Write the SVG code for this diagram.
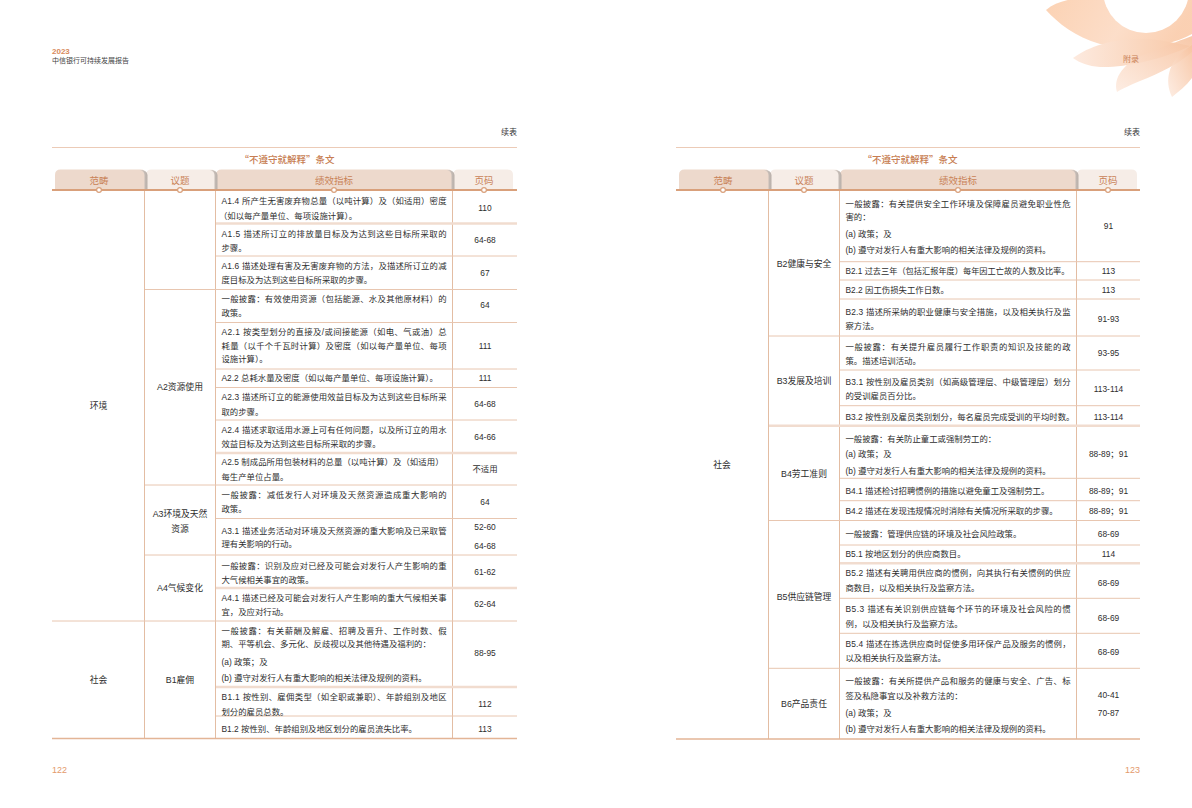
<svg xmlns="http://www.w3.org/2000/svg" width="1192" height="808" viewBox="0 0 1192 808">
<style>
text{font-family:"Liberation Sans","Noto Sans CJK SC",sans-serif}
.t{font-size:8.4px;fill:#2e2e2e}
.m{font-size:8.4px;fill:#2e2e2e;text-anchor:middle}
.lb{font-size:8.8px;fill:#2e2e2e;text-anchor:middle}
.tab{font-size:9.5px;fill:#c98257;text-anchor:middle}
.ttl{font-family:"Noto Sans CJK SC",sans-serif;font-size:9.5px;fill:#c77d52;text-anchor:middle;font-weight:500}
.sep{stroke:#e8c6b0;stroke-width:1;fill:none}
.sepw{stroke:#f1dccf;stroke-width:2.5;fill:none}
.col{stroke:#e3bda3;stroke-width:1;fill:none}
.hl{stroke:#d9a07b;stroke-width:2;fill:none}
.bl{stroke:#e3b596;stroke-width:1.5;fill:none}
.rule{stroke:#eccbb7;stroke-width:1;fill:none}
.dk{fill:#edd9cc}
.lt{fill:#f6ede7}
.dot{fill:#fff;stroke:#d9a07b;stroke-width:1.2}
</style>
<defs>
<linearGradient id="shg" x1="0" y1="0" x2="1" y2="0"><stop offset="0" stop-color="#d6cdc7"/><stop offset="1" stop-color="#b9b0aa"/></linearGradient>
<path id="tabsh" d="M-3,0 Q4,0 4.5,5 V20 H1.5 V5 Q1.3,1.2 -3,0 Z" fill="url(#shg)"/>
<linearGradient id="pa" x1="0" y1="0" x2="1" y2="0.2"><stop offset="0" stop-color="#fbcdab"/><stop offset="0.6" stop-color="#fcdac3"/><stop offset="1" stop-color="#facbaa"/></linearGradient>
<linearGradient id="pb" x1="0" y1="0" x2="1" y2="0"><stop offset="0" stop-color="#fdeadf"/><stop offset="1" stop-color="#f8c8a6"/></linearGradient>
<linearGradient id="pc" x1="0" y1="1" x2="1" y2="0"><stop offset="0" stop-color="#fdebe0"/><stop offset="1" stop-color="#f7c3a0"/></linearGradient>
</defs>

<g id="petals">
<path d="M1046,10 C1060,-2 1085,-4 1105,0 L1192,0 L1192,34 C1170,47 1130,51 1100,44 C1075,37 1058,23 1046,10 Z" fill="url(#pa)" opacity="0.9"/>
<circle cx="1146" cy="-10" r="43" fill="#fff"/>
<path d="M1073,58 C1090,45 1120,37 1150,39 C1165,41 1178,43 1190,46 C1162,60 1122,68 1100,67 C1088,66 1080,63 1073,58 Z" fill="url(#pb)"/>
<path d="M1117,92 C1113,78 1123,62 1150,52 C1170,44 1184,39 1192,36 L1192,52 C1180,63 1160,73 1140,81 C1130,85 1122,89 1117,92 Z" fill="url(#pc)" opacity="0.9"/>
<path d="M1172,97 C1164,80 1169,62 1185,50 L1192,45 L1192,78 C1186,86 1178,92 1172,97 Z" fill="url(#pc)" opacity="0.9"/>
</g>

<g id="page-header">
<text x="52" y="54" style="font-size:8px;fill:#d88a5c;font-weight:bold">2023</text>
<text x="52" y="62.5" style="font-size:7px;fill:#444">中信银行可持续发展报告</text>
<text x="1131" y="62" style="font-size:8px;fill:#c97f57;text-anchor:middle">附录</text>
<text x="517" y="135" style="font-size:8px;fill:#333;text-anchor:end">续表</text>
<text x="1140" y="135" style="font-size:8px;fill:#333;text-anchor:end">续表</text>
<text x="52" y="773" style="font-size:9px;fill:#e39a6c">122</text>
<text x="1140" y="773" style="font-size:9px;fill:#e39a6c;text-anchor:end">123</text>
</g>

<!-- LEFT TABLE -->
<g id="left-table-head">
<line class="rule" x1="52" y1="147.5" x2="517" y2="147.5"/>
<text class="ttl" x="287" y="162.5">“不遵守就解释”条文</text>
<path class="dk" d="M55,190 V175 Q55,169.5 60.5,169.5 H140.5 Q146,169.5 146,175 V190 Z"/>
<path class="lt" d="M146,190 V175 Q146,169.5 151.5,169.5 H210.5 Q216,169.5 216,175 V190 Z"/>
<path class="dk" d="M216,190 V175 Q216,169.5 221.5,169.5 H447.5 Q453,169.5 453,175 V190 Z"/>
<path class="lt" d="M453,190 V175 Q453,169.5 458.5,169.5 H507.5 Q513,169.5 513,175 V190 Z"/>
<use href="#tabsh" x="143" y="170"/>
<use href="#tabsh" x="213" y="170"/>
<use href="#tabsh" x="450" y="170"/>
<text class="tab" x="99" y="183.5">范畴</text>
<text class="tab" x="180" y="183.5">议题</text>
<text class="tab" x="334" y="183.5">绩效指标</text>
<text class="tab" x="484" y="183.5">页码</text>
</g>

<g id="left-table-lines">
<line class="col" x1="144.5" y1="190" x2="144.5" y2="738"/>
<line class="col" x1="215.5" y1="190" x2="215.5" y2="738"/>
<line class="col" x1="452.5" y1="190" x2="452.5" y2="738"/>
<line class="sepw" x1="216" y1="223.5" x2="517" y2="223.5"/>
<line class="sep" x1="216" y1="256" x2="517" y2="256"/>
<line class="sep" x1="145" y1="289.5" x2="517" y2="289.5"/>
<line class="sep" x1="216" y1="322.5" x2="517" y2="322.5"/>
<line class="sep" x1="216" y1="369" x2="517" y2="369"/>
<line class="sep" x1="216" y1="387.5" x2="517" y2="387.5"/>
<line class="sep" x1="216" y1="420" x2="517" y2="420"/>
<line class="sepw" x1="216" y1="453" x2="517" y2="453"/>
<line class="sep" x1="145" y1="485" x2="517" y2="485"/>
<line class="sep" x1="216" y1="518.5" x2="517" y2="518.5"/>
<line class="sep" x1="145" y1="555" x2="517" y2="555"/>
<line class="sepw" x1="216" y1="588" x2="517" y2="588"/>
<line class="sep" x1="52" y1="621" x2="517" y2="621"/>
<line class="sepw" x1="216" y1="687" x2="517" y2="687"/>
<line class="sep" x1="216" y1="716" x2="517" y2="716"/>
<line class="hl" x1="52" y1="190" x2="517" y2="190"/>
<line class="bl" x1="52" y1="738.5" x2="517" y2="738.5"/>
<circle class="dot" cx="99" cy="190" r="2.4"/>
<circle class="dot" cx="180" cy="190" r="2.4"/>
<circle class="dot" cx="334" cy="190" r="2.4"/>
<circle class="dot" cx="484" cy="190" r="2.4"/>
</g>

<g id="left-labels">
<text class="lb" x="98.5" y="409">环境</text>
<text class="lb" x="98.5" y="683">社会</text>
<text class="lb" x="180" y="390">A2资源使用</text>
<text class="lb" x="180" y="517">A3环境及天然</text>
<text class="lb" x="180" y="531.5">资源</text>
<text class="lb" x="180" y="591">A4气候变化</text>
<text class="lb" x="180" y="683">B1雇佣</text>
</g>

<g id="row-A1-4">
<text class="t" x="221.5" y="203.5" textLength="225" lengthAdjust="spacing">A1.4 所产生无害废弃物总量（以吨计算）及（如适用）密度</text>
<text class="t" x="219" y="218.5">（如以每产量单位、每项设施计算）。</text>
<text class="m" x="485" y="210.5">110</text>
</g>
<g id="row-A1-5">
<text class="t" x="221.5" y="237.3" textLength="225" lengthAdjust="spacing">A1.5 描述所订立的排放量目标及为达到这些目标所采取的</text>
<text class="t" x="221.5" y="250.7">步骤。</text>
<text class="m" x="485" y="243">64-68</text>
</g>
<g id="row-A1-6">
<text class="t" x="221.5" y="269" textLength="225" lengthAdjust="spacing">A1.6 描述处理有害及无害废弃物的方法，及描述所订立的减</text>
<text class="t" x="221.5" y="283">度目标及为达到这些目标所采取的步骤。</text>
<text class="m" x="485" y="275.5">67</text>
</g>
<g id="row-A2-gen">
<text class="t" x="221.5" y="302" textLength="225" lengthAdjust="spacing">一般披露：有效使用资源（包括能源、水及其他原材料）的</text>
<text class="t" x="221.5" y="315.7">政策。</text>
<text class="m" x="485" y="308">64</text>
</g>
<g id="row-A2-1">
<text class="t" x="221.5" y="334.7" textLength="225" lengthAdjust="spacing">A2.1 按类型划分的直接及/或间接能源（如电、气或油）总</text>
<text class="t" x="221.5" y="348.7" textLength="225" lengthAdjust="spacing">耗量（以千个千瓦时计算）及密度（如以每产量单位、每项</text>
<text class="t" x="221.5" y="362.3">设施计算）。</text>
<text class="m" x="485" y="348.7">111</text>
</g>
<g id="row-A2-2">
<text class="t" x="221.5" y="381">A2.2 总耗水量及密度（如以每产量单位、每项设施计算）。</text>
<text class="m" x="485" y="381">111</text>
</g>
<g id="row-A2-3">
<text class="t" x="221.5" y="400.3" textLength="225" lengthAdjust="spacing">A2.3 描述所订立的能源使用效益目标及为达到这些目标所采</text>
<text class="t" x="221.5" y="414.7">取的步骤。</text>
<text class="m" x="485" y="406.5">64-68</text>
</g>
<g id="row-A2-4">
<text class="t" x="221.5" y="433" textLength="225" lengthAdjust="spacing">A2.4 描述求取适用水源上可有任何问题，以及所订立的用水</text>
<text class="t" x="221.5" y="447">效益目标及为达到这些目标所采取的步骤。</text>
<text class="m" x="485" y="439.7">64-66</text>
</g>
<g id="row-A2-5">
<text class="t" x="221.5" y="465.3" textLength="222" lengthAdjust="spacing">A2.5 制成品所用包装材料的总量（以吨计算）及（如适用）</text>
<text class="t" x="221.5" y="479.7">每生产单位占量。</text>
<text class="m" x="485" y="472.3">不适用</text>
</g>
<g id="row-A3-gen">
<text class="t" x="221.5" y="498" textLength="225" lengthAdjust="spacing">一般披露：减低发行人对环境及天然资源造成重大影响的</text>
<text class="t" x="221.5" y="512.3">政策。</text>
<text class="m" x="485" y="504.7">64</text>
</g>
<g id="row-A3-1">
<text class="t" x="221.5" y="533.7" textLength="225" lengthAdjust="spacing">A3.1 描述业务活动对环境及天然资源的重大影响及已采取管</text>
<text class="t" x="221.5" y="547">理有关影响的行动。</text>
<text class="m" x="485" y="530.3">52-60</text>
<text class="m" x="485" y="548.7">64-68</text>
</g>
<g id="row-A4-gen">
<text class="t" x="221.5" y="569" textLength="225" lengthAdjust="spacing">一般披露：识别及应对已经及可能会对发行人产生影响的重</text>
<text class="t" x="221.5" y="583">大气候相关事宜的政策。</text>
<text class="m" x="485" y="574.7">61-62</text>
</g>
<g id="row-A4-1">
<text class="t" x="221.5" y="601.3" textLength="225" lengthAdjust="spacing">A4.1 描述已经及可能会对发行人产生影响的重大气候相关事</text>
<text class="t" x="221.5" y="614.7">宜，及应对行动。</text>
<text class="m" x="485" y="607.3">62-64</text>
</g>
<g id="row-B1-gen">
<text class="t" x="221.5" y="633.7" textLength="225" lengthAdjust="spacing">一般披露：有关薪酬及解雇、招聘及晋升、工作时数、假</text>
<text class="t" x="221.5" y="647">期、平等机会、多元化、反歧视以及其他待遇及福利的：</text>
<text class="t" x="221.5" y="664.7">(a) 政策；及</text>
<text class="t" x="221.5" y="681.3">(b) 遵守对发行人有重大影响的相关法律及规例的资料。</text>
<text class="m" x="485" y="656.3">88-95</text>
</g>
<g id="row-B1-1">
<text class="t" x="221.5" y="700.3" textLength="225" lengthAdjust="spacing">B1.1 按性别、雇佣类型（如全职或兼职）、年龄组别及地区</text>
<text class="t" x="221.5" y="714.7">划分的雇员总数。</text>
<text class="m" x="485" y="707">112</text>
</g>
<g id="row-B1-2">
<text class="t" x="221.5" y="732">B1.2 按性别、年龄组别及地区划分的雇员流失比率。</text>
<text class="m" x="485" y="732">113</text>
</g>

<!-- RIGHT TABLE -->
<g id="right-table-head">
<line class="rule" x1="676" y1="147.5" x2="1140" y2="147.5"/>
<text class="ttl" x="910" y="162.5">“不遵守就解释”条文</text>
<path class="dk" d="M679,190 V175 Q679,169.5 684.5,169.5 H764.5 Q770,169.5 770,175 V190 Z"/>
<path class="lt" d="M770,190 V175 Q770,169.5 775.5,169.5 H834.5 Q840,169.5 840,175 V190 Z"/>
<path class="dk" d="M840,190 V175 Q840,169.5 845.5,169.5 H1071.5 Q1077,169.5 1077,175 V190 Z"/>
<path class="lt" d="M1077,190 V175 Q1077,169.5 1082.5,169.5 H1131.5 Q1137,169.5 1137,175 V190 Z"/>
<use href="#tabsh" x="767" y="170"/>
<use href="#tabsh" x="837" y="170"/>
<use href="#tabsh" x="1074" y="170"/>
<text class="tab" x="723" y="183.5">范畴</text>
<text class="tab" x="804" y="183.5">议题</text>
<text class="tab" x="958" y="183.5">绩效指标</text>
<text class="tab" x="1108" y="183.5">页码</text>
</g>

<g id="right-table-lines">
<line class="col" x1="768.5" y1="190" x2="768.5" y2="739"/>
<line class="col" x1="839.5" y1="190" x2="839.5" y2="739"/>
<line class="col" x1="1076.5" y1="190" x2="1076.5" y2="739"/>
<line class="sep" x1="840" y1="261.7" x2="1140" y2="261.7"/>
<line class="sep" x1="840" y1="280" x2="1140" y2="280"/>
<line class="sep" x1="840" y1="299" x2="1140" y2="299"/>
<line class="sep" x1="769" y1="336" x2="1140" y2="336"/>
<line class="sep" x1="840" y1="370" x2="1140" y2="370"/>
<line class="sep" x1="840" y1="405.7" x2="1140" y2="405.7"/>
<line class="sepw" x1="769" y1="425.7" x2="1140" y2="425.7"/>
<line class="sep" x1="840" y1="478.3" x2="1140" y2="478.3"/>
<line class="sep" x1="840" y1="500.7" x2="1140" y2="500.7"/>
<line class="sep" x1="769" y1="520.5" x2="1140" y2="520.5"/>
<line class="sep" x1="840" y1="545" x2="1140" y2="545"/>
<line class="sepw" x1="840" y1="563.3" x2="1140" y2="563.3"/>
<line class="sep" x1="840" y1="598.3" x2="1140" y2="598.3"/>
<line class="sep" x1="840" y1="633.3" x2="1140" y2="633.3"/>
<line class="sep" x1="769" y1="668.3" x2="1140" y2="668.3"/>
<line class="hl" x1="676" y1="190" x2="1140" y2="190"/>
<line class="bl" x1="676" y1="739" x2="1140" y2="739"/>
<circle class="dot" cx="723" cy="190" r="2.4"/>
<circle class="dot" cx="804" cy="190" r="2.4"/>
<circle class="dot" cx="958" cy="190" r="2.4"/>
<circle class="dot" cx="1108" cy="190" r="2.4"/>
</g>

<g id="right-labels">
<text class="lb" x="722" y="468">社会</text>
<text class="lb" x="804" y="267">B2健康与安全</text>
<text class="lb" x="804" y="384">B3发展及培训</text>
<text class="lb" x="804" y="477">B4劳工准则</text>
<text class="lb" x="804" y="600">B5供应链管理</text>
<text class="lb" x="804" y="707">B6产品责任</text>
</g>

<g id="row-B2-gen">
<text class="t" x="845.5" y="206.5" textLength="225" lengthAdjust="spacing">一般披露：有关提供安全工作环境及保障雇员避免职业性危</text>
<text class="t" x="845.5" y="220">害的：</text>
<text class="t" x="845.5" y="237">(a) 政策；及</text>
<text class="t" x="845.5" y="252.5">(b) 遵守对发行人有重大影响的相关法律及规例的资料。</text>
<text class="m" x="1108.5" y="229">91</text>
</g>
<g id="row-B2-1">
<text class="t" x="845.5" y="274" textLength="224" lengthAdjust="spacingAndGlyphs">B2.1 过去三年（包括汇报年度）每年因工亡故的人数及比率。</text>
<text class="m" x="1108.5" y="274">113</text>
</g>
<g id="row-B2-2">
<text class="t" x="845.5" y="293">B2.2 因工伤损失工作日数。</text>
<text class="m" x="1108.5" y="293">113</text>
</g>
<g id="row-B2-3">
<text class="t" x="845.5" y="314.5" textLength="225" lengthAdjust="spacing">B2.3 描述所采纳的职业健康与安全措施，以及相关执行及监</text>
<text class="t" x="845.5" y="328.5">察方法。</text>
<text class="m" x="1108.5" y="321.5">91-93</text>
</g>
<g id="row-B3-gen">
<text class="t" x="845.5" y="350" textLength="225" lengthAdjust="spacing">一般披露：有关提升雇员履行工作职责的知识及技能的政</text>
<text class="t" x="845.5" y="364">策。描述培训活动。</text>
<text class="m" x="1108.5" y="356">93-95</text>
</g>
<g id="row-B3-1">
<text class="t" x="845.5" y="385" textLength="225" lengthAdjust="spacing">B3.1 按性别及雇员类别（如高级管理层、中级管理层）划分</text>
<text class="t" x="845.5" y="399">的受训雇员百分比。</text>
<text class="m" x="1108.5" y="392">113-114</text>
</g>
<g id="row-B3-2">
<text class="t" x="845.5" y="419.5">B3.2 按性别及雇员类别划分，每名雇员完成受训的平均时数。</text>
<text class="m" x="1108.5" y="419.5">113-114</text>
</g>
<g id="row-B4-gen">
<text class="t" x="845.5" y="442">一般披露：有关防止童工或强制劳工的：</text>
<text class="t" x="845.5" y="457">(a) 政策；及</text>
<text class="t" x="845.5" y="474">(b) 遵守对发行人有重大影响的相关法律及规例的资料。</text>
<text class="m" x="1108.5" y="457">88-89；91</text>
</g>
<g id="row-B4-1">
<text class="t" x="845.5" y="494">B4.1 描述检讨招聘惯例的措施以避免童工及强制劳工。</text>
<text class="m" x="1108.5" y="494">88-89；91</text>
</g>
<g id="row-B4-2">
<text class="t" x="845.5" y="514">B4.2 描述在发现违规情况时消除有关情况所采取的步骤。</text>
<text class="m" x="1108.5" y="514">88-89；91</text>
</g>
<g id="row-B5-gen">
<text class="t" x="845.5" y="536.5">一般披露：管理供应链的环境及社会风险政策。</text>
<text class="m" x="1108.5" y="536.5">68-69</text>
</g>
<g id="row-B5-1">
<text class="t" x="845.5" y="557">B5.1 按地区划分的供应商数目。</text>
<text class="m" x="1108.5" y="557">114</text>
</g>
<g id="row-B5-2">
<text class="t" x="845.5" y="575.7" textLength="225" lengthAdjust="spacing">B5.2 描述有关聘用供应商的惯例，向其执行有关惯例的供应</text>
<text class="t" x="845.5" y="591.3">商数目，以及相关执行及监察方法。</text>
<text class="m" x="1108.5" y="585.7">68-69</text>
</g>
<g id="row-B5-3">
<text class="t" x="845.5" y="612.3" textLength="225" lengthAdjust="spacing">B5.3 描述有关识别供应链每个环节的环境及社会风险的惯</text>
<text class="t" x="845.5" y="627">例，以及相关执行及监察方法。</text>
<text class="m" x="1108.5" y="621.3">68-69</text>
</g>
<g id="row-B5-4">
<text class="t" x="845.5" y="647" textLength="225" lengthAdjust="spacing">B5.4 描述在拣选供应商时促使多用环保产品及服务的惯例，</text>
<text class="t" x="845.5" y="661.3">以及相关执行及监察方法。</text>
<text class="m" x="1108.5" y="654.7">68-69</text>
</g>
<g id="row-B6-gen">
<text class="t" x="845.5" y="684" textLength="225" lengthAdjust="spacing">一般披露：有关所提供产品和服务的健康与安全、广告、标</text>
<text class="t" x="845.5" y="698.7">签及私隐事宜以及补救方法的：</text>
<text class="t" x="845.5" y="715.7">(a) 政策；及</text>
<text class="t" x="845.5" y="732.3">(b) 遵守对发行人有重大影响的相关法律及规例的资料。</text>
<text class="m" x="1108.5" y="698">40-41</text>
<text class="m" x="1108.5" y="715.7">70-87</text>
</g>
</svg>
